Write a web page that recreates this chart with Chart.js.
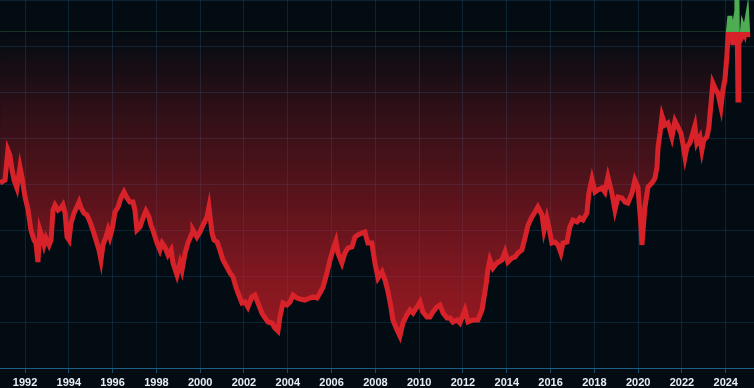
<!DOCTYPE html>
<html>
<head>
<meta charset="utf-8">
<script src="https://cdn.jsdelivr.net/npm/chart.js@4.4.1/dist/chart.umd.min.js"></script>
<style>
  html, body { margin: 0; padding: 0; background: #040c13; }
  #wrap { width: 754px; height: 388px; position: relative; }
</style>
</head>
<body>
<div id="wrap"><canvas id="chart"></canvas></div>
<script>
// Nikkei 225 (decimal year, index level)
const years = [
  1990.86, 1991.09, 1991.22, 1991.31, 1991.41, 1991.50, 1991.63, 1991.77, 1991.86,
  1992.00, 1992.14, 1992.27, 1992.41, 1992.50, 1992.59, 1992.68, 1992.78, 1992.87, 1992.96,
  1993.10, 1993.19, 1993.28, 1993.37, 1993.51, 1993.64, 1993.73, 1993.83, 1993.92,
  1994.01, 1994.10, 1994.24, 1994.37, 1994.47, 1994.56, 1994.69, 1994.83, 1994.97,
  1995.10, 1995.24, 1995.38, 1995.47, 1995.56, 1995.70, 1995.79, 1995.88, 1995.97,
  1996.11, 1996.25, 1996.38, 1996.52, 1996.66, 1996.79, 1996.93,
  1997.02, 1997.11, 1997.25, 1997.39, 1997.52, 1997.66, 1997.75, 1997.84,
  1998.03, 1998.16, 1998.26, 1998.39, 1998.53, 1998.67, 1998.76, 1998.94,
  1999.08, 1999.17, 1999.31, 1999.44, 1999.63, 1999.67, 1999.85, 1999.99,
  2000.13, 2000.31, 2000.40, 2000.54, 2000.63, 2000.77, 2000.90,
  2001.04, 2001.22, 2001.36, 2001.50, 2001.63, 2001.73, 2001.91,
  2002.05, 2002.18, 2002.36, 2002.50, 2002.64, 2002.82, 2002.96,
  2003.10, 2003.28, 2003.41, 2003.55, 2003.64, 2003.78, 2003.96,
  2004.10, 2004.24, 2004.42, 2004.56, 2004.78,
  2005.01, 2005.15, 2005.33, 2005.47, 2005.61, 2005.79, 2005.93,
  2006.06, 2006.20, 2006.29, 2006.47, 2006.61, 2006.75, 2006.93,
  2007.07, 2007.20, 2007.39, 2007.52, 2007.66, 2007.84, 2007.98,
  2008.12, 2008.30, 2008.44, 2008.58, 2008.71, 2008.80, 2008.99,
  2009.12, 2009.26, 2009.44, 2009.58, 2009.72, 2009.90,
  2010.04, 2010.17, 2010.36, 2010.49, 2010.63, 2010.81, 2010.95,
  2011.09, 2011.27, 2011.41, 2011.54, 2011.73, 2011.86,
  2012.09, 2012.23, 2012.46, 2012.68, 2012.87,
  2013.05, 2013.14, 2013.23, 2013.37, 2013.55, 2013.78, 2013.92,
  2014.05, 2014.24, 2014.37, 2014.51, 2014.69, 2014.83, 2014.97,
  2015.15, 2015.29, 2015.42, 2015.61, 2015.70, 2015.83, 2015.93,
  2016.06, 2016.20, 2016.34, 2016.47, 2016.57, 2016.75, 2016.88,
  2017.02, 2017.21, 2017.34, 2017.48, 2017.66, 2017.75, 2017.89,
  2018.03, 2018.16, 2018.35, 2018.48, 2018.62, 2018.80, 2018.94,
  2019.08, 2019.26, 2019.40, 2019.53, 2019.72, 2019.85, 2019.99,
  2020.13, 2020.17, 2020.31, 2020.45, 2020.63, 2020.77, 2020.86, 2020.91,
  2021.00, 2021.09, 2021.22, 2021.36, 2021.54, 2021.68, 2021.82, 2021.95,
  2022.04, 2022.14, 2022.23, 2022.36, 2022.50, 2022.59, 2022.68, 2022.82, 2022.91,
  2023.00, 2023.14, 2023.23, 2023.37, 2023.41, 2023.55, 2023.64, 2023.78, 2023.87, 2023.96,
  2024.05, 2024.10, 2024.19, 2024.24, 2024.33, 2024.37, 2024.42, 2024.47, 2024.51,
  2024.56, 2024.60, 2024.74, 2024.78, 2024.87, 2024.97, 2025.01
];
const closes = [
  23180, 23490, 26600, 26080, 24530, 23490, 22660, 24840, 23800,
  21720, 20370, 18290, 17260, 16940, 14970, 18290, 17570, 16740, 17460,
  16740, 17260, 20370, 20890, 20370, 20580, 20890, 20060, 17570,
  17260, 19020, 20060, 20680, 21200, 20580, 20060, 19850, 19130,
  18290, 17260, 16220, 15180, 16740, 17570, 18290, 17570, 18290,
  20160, 20680, 21620, 22240, 21620, 21200, 21200,
  20370, 18290, 18610, 19540, 20270, 19650, 18810, 18290,
  16940, 16220, 16940, 16530, 15700, 16220, 14870, 13620,
  14870, 14140, 15910, 16940, 17980, 18290, 17570, 18090,
  18810, 19650, 20680, 17980, 17260, 17050, 16220,
  15180, 14450, 13830, 13410, 12370, 11750, 10710,
  10820, 10300, 11340, 11540, 10710, 9670, 9160,
  8740, 8640, 8120, 7800, 9260, 10710, 10500,
  10820, 11540, 11230, 11130, 11020,
  11230, 11340, 11230, 11750, 12370, 13830, 15180,
  16220, 17150, 15910, 14870, 15910, 16430, 16530,
  17570, 17780, 17980, 18090, 16940, 16940, 14870,
  13310, 13930, 13100, 11860, 10300, 8950, 7910,
  7290, 8640, 9470, 9990, 9670, 10300,
  10820, 9780, 9260, 9260, 9780, 10300, 10500,
  9670, 9160, 9160, 8740, 8950, 8640,
  9990, 8740, 8950, 8950, 9990,
  12580, 14140, 15180, 14350, 14870, 15180, 16010,
  14970, 15390, 15490, 15910, 16220, 17460, 18810,
  19650, 20160, 20680, 19850, 18290, 19540, 18500,
  16940, 17050, 16740, 15910, 16940, 17050, 18610,
  19330, 19130, 19540, 19330, 20060, 22140, 23590,
  22240, 22450, 22660, 22240, 23800, 22140, 20370,
  21720, 21620, 21200, 21100, 22140, 23490, 22760,
  18610, 16740, 20680, 22760, 23180, 23700, 24840, 26920,
  28370, 30130, 29200, 29410, 27950, 29620, 28990, 28370,
  27330, 25880, 26920, 27330, 28370, 29100, 27330, 27950, 26600,
  27640, 27950, 28990, 32520, 33560, 32840, 32520, 31070, 32840, 33870,
  36260, 38340, 40520, 39380, 37510, 39070, 39790, 39070, 42180,
  31800, 37720, 38340, 39380, 38760, 40110, 38340
];
// 1989 record close, the level the fill is measured from
const baseline = 38915;

const RED = "rgb(216, 34, 42)";
const GREEN = "rgb(78, 172, 82)";
const GRID = "rgba(22, 72, 104, 0.4)";

const points = years.map((y, i) => ({ x: y, y: closes[i] }));

// line colour: green above the baseline, red below it
function lineColor(context) {
  const chart = context.chart;
  const area = chart.chartArea;
  if (!area || !chart.scales.y) return RED;
  const yb = chart.scales.y.getPixelForValue(baseline);
  const f = Math.min(Math.max((yb - area.top) / (area.bottom - area.top), 0), 1);
  const g = chart.ctx.createLinearGradient(0, area.top, 0, area.bottom);
  g.addColorStop(0, GREEN);
  g.addColorStop(f, GREEN);
  g.addColorStop(f, RED);
  g.addColorStop(1, RED);
  return g;
}

// red fill below the baseline, fading out towards it
function belowFill(context) {
  const chart = context.chart;
  const area = chart.chartArea;
  if (!area || !chart.scales.y) return "rgba(200,30,40,0.5)";
  const yb = chart.scales.y.getPixelForValue(baseline);
  const g = chart.ctx.createLinearGradient(0, yb, 0, area.bottom);
  g.addColorStop(0, "rgba(205, 30, 40, 0)");
  g.addColorStop(0.3, "rgba(205, 30, 40, 0.27)");
  g.addColorStop(0.75, "rgba(205, 30, 40, 0.64)");
  g.addColorStop(1, "rgba(205, 30, 40, 0.8)");
  return g;
}

Chart.defaults.font.family = "'Liberation Sans', Arial, sans-serif";

new Chart(document.getElementById("chart"), {
  type: "line",
  data: {
    datasets: [{
      data: points,
      borderColor: lineColor,
      backgroundColor: belowFill,
      borderWidth: 5,
      pointRadius: 0,
      tension: 0,
      fill: { target: { value: baseline }, above: GREEN }
    }]
  },
  options: {
    responsive: true,
    maintainAspectRatio: false,
    animation: false,
    layout: { padding: 0 },
    plugins: { legend: { display: false }, tooltip: { enabled: false } },
    scales: {
      x: {
        type: "linear",
        min: 1990.858,
        max: 2025.29,
        afterFit: (scale) => { scale.height = 20; },
        grid: { color: GRID, tickLength: 5, tickColor: "rgba(28, 90, 128, 0.8)" },
        border: { display: true, color: "#1c5f86", width: 1 },
        ticks: {
          stepSize: 2,
          includeBounds: false,
          maxRotation: 0,
          autoSkip: false,
          padding: 3,
          color: "#e8eef3",
          font: { size: 11, weight: "bold" },
          callback: (v) => String(Math.round(v))
        }
      },
      y: {
        min: 3960,
        max: 42190,
        afterFit: (scale) => { scale.width = 0; },
        grid: { color: GRID, drawTicks: false },
        border: { display: false },
        ticks: { display: false, stepSize: 5000, includeBounds: false }
      }
    }
  }
});
</script>
</body>
</html>
